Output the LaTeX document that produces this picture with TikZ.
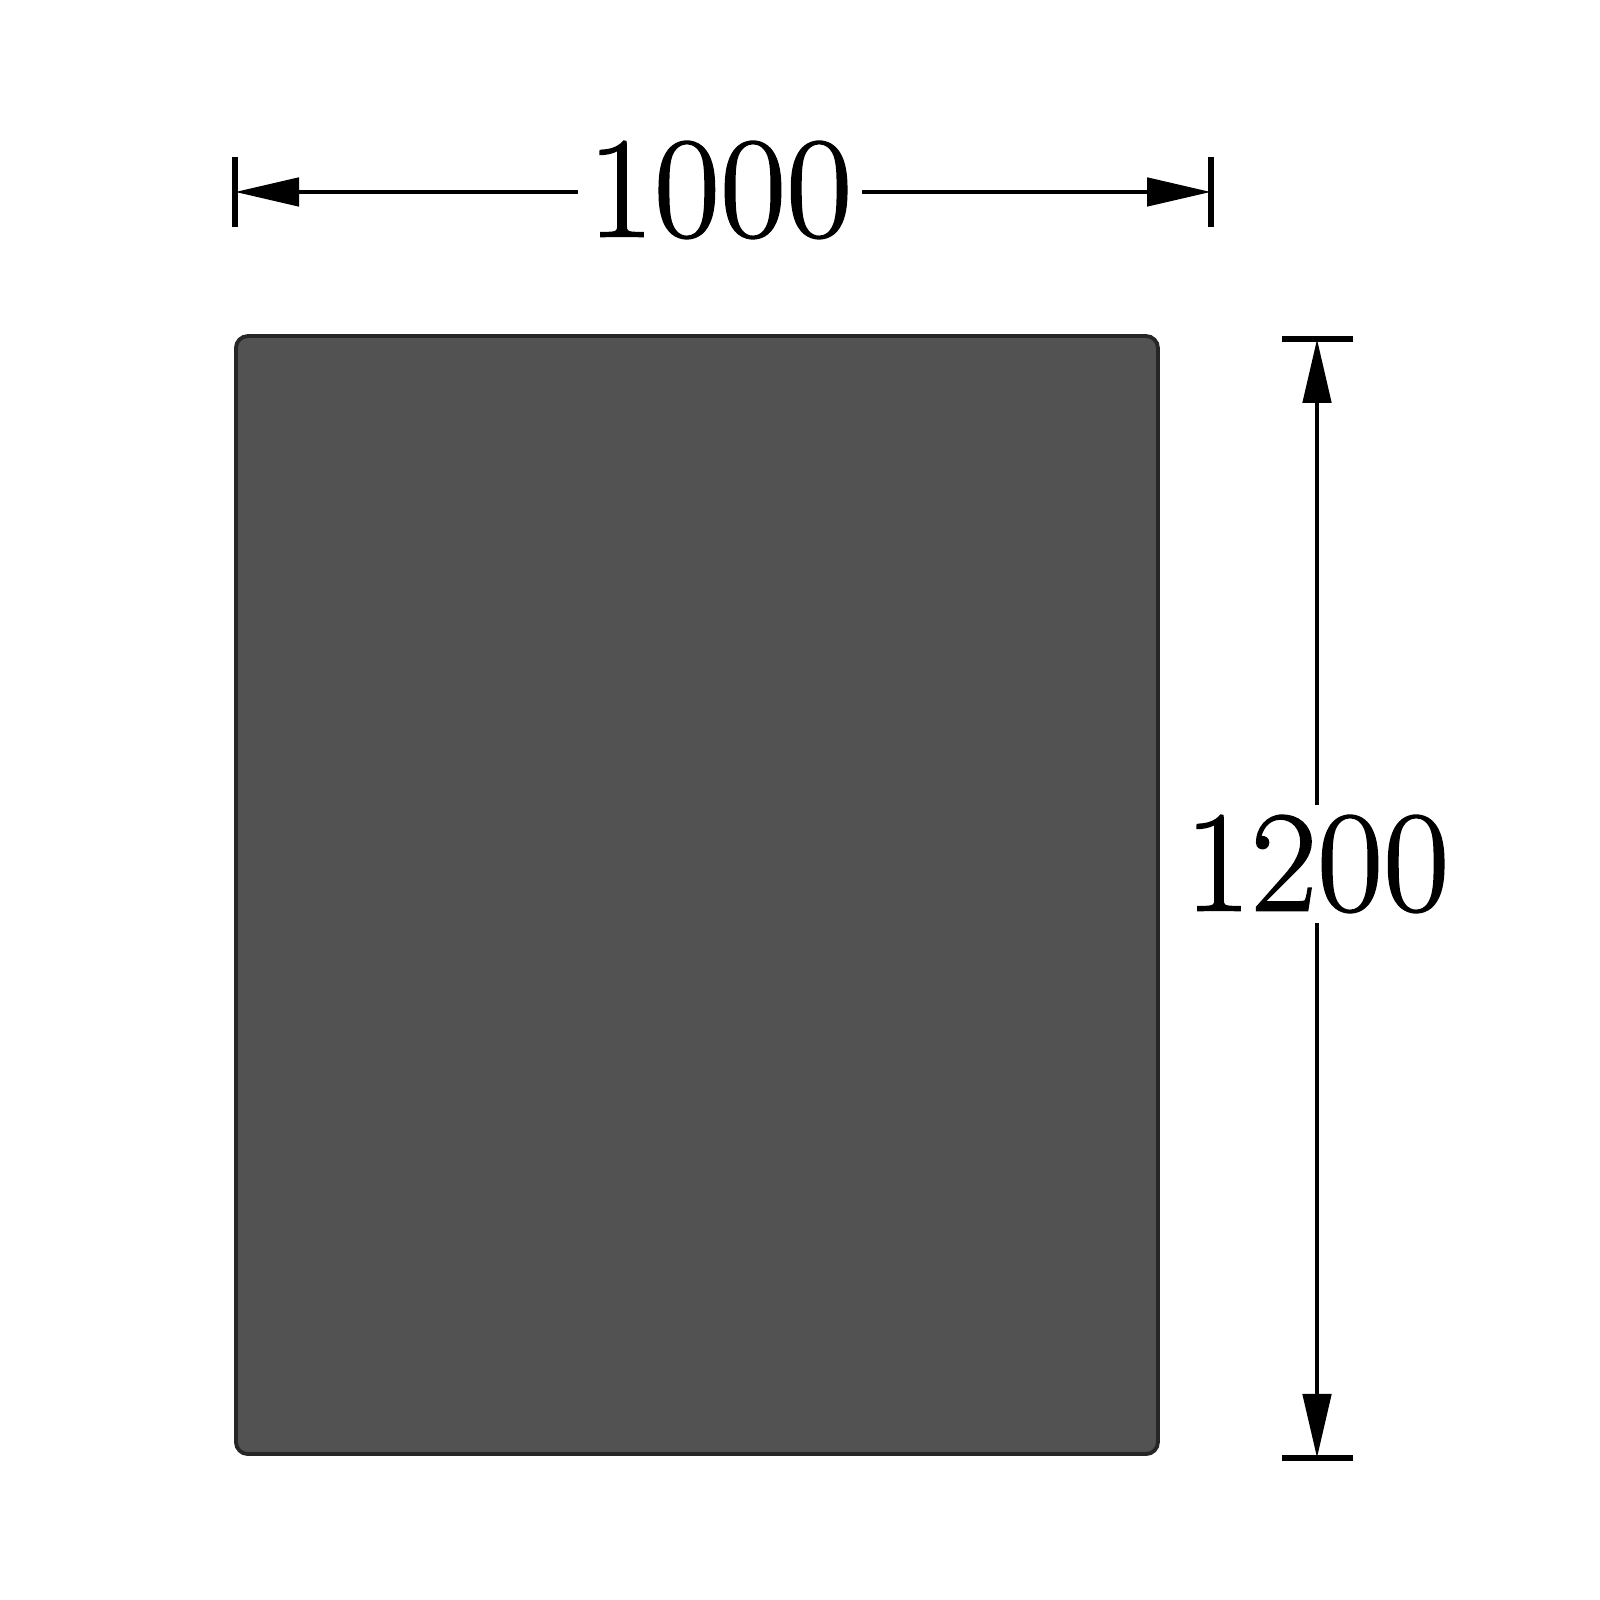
\documentclass[tikz,border=0pt]{standalone}
\usepackage{fontspec}
\newfontfamily\dimfont{Latin Modern Roman}[FakeBold=1.2]
\usetikzlibrary{arrows.meta}
\definecolor{plategray}{HTML}{525252}
\tikzset{
  dimline/.style={line width=1.4pt, black, {Triangle[length=0.64cm,width=0.28cm]}-{Triangle[length=0.64cm,width=0.28cm]}},
  tickline/.style={line width=1.5pt, black},
  dimlabel/.style={fill=white, inner xsep=0.1cm, inner ysep=0.1cm, font=\dimfont\fontsize{41}{41}\selectfont},
  platebox/.style={draw=black!85, line width=1.1pt, fill=plategray, rounded corners=0.12cm}
}
\begin{document}
\begin{tikzpicture}
\useasboundingbox (0,0) rectangle (16,16);
% plate
\node[platebox, minimum width=9.22cm, minimum height=11.18cm, inner sep=0pt, anchor=south west] (plate) at (2.34,1.44) {};
% horizontal dimension
\coordinate (hL) at (2.35,14.08);
\coordinate (hR) at (12.11,14.08);
\coordinate (hLt) at (2.35,14.43);
\coordinate (hLb) at (2.35,13.73);
\coordinate (hRt) at (12.11,14.43);
\coordinate (hRb) at (12.11,13.73);
\draw[tickline] (hLt) -- (hLb);
\draw[tickline] (hRt) -- (hRb);
\draw[dimline] (hL) -- (hR);
\node[dimlabel] (wlabel) at (7.20,14.10) {1000};
% vertical dimension
\coordinate (vT) at (13.17,12.61);
\coordinate (vB) at (13.17,1.42);
\coordinate (vTl) at (12.82,12.61);
\coordinate (vTr) at (13.53,12.61);
\coordinate (vBl) at (12.82,1.42);
\coordinate (vBr) at (13.53,1.42);
\draw[tickline] (vTl) -- (vTr);
\draw[tickline] (vBl) -- (vBr);
\draw[dimline] (vT) -- (vB);
\node[dimlabel] (hlabel) at (13.17,7.36) {1200};
\end{tikzpicture}
\end{document}
